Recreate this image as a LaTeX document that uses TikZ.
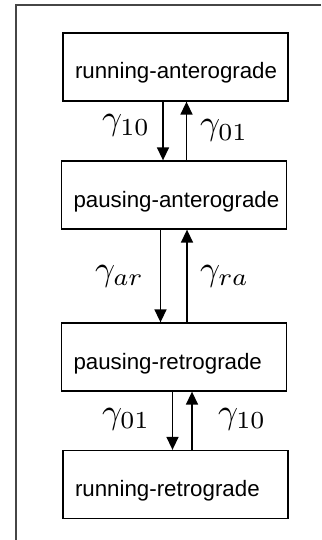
\documentclass[tikz,border=0pt]{standalone}
\usepackage{fontspec}
\setmainfont{Liberation Sans}
\usetikzlibrary{arrows.meta}
\definecolor{framegray}{RGB}{70,70,70}
\newcommand{\ratelabel}[1]{\scalebox{3.5}{$\gamma_{#1}$}}
\begin{document}
\begin{tikzpicture}[x=1pt,y=-1pt,
  statebox/.style={draw=black, line width=1.3pt, minimum width=225pt, minimum height=68pt,
    text width=201pt, inner xsep=12pt, align=left, text height=24pt, text depth=0pt,
    font=\fontsize{22.3}{26}\selectfont},
  rate/.style={anchor=base west, inner sep=0pt},
  trans/.style={line width=1.5pt, -{Triangle[length=13pt,width=12pt]}},
  framestyle/.style={line width=1.7pt, draw=framegray}]
\useasboundingbox (0,0) rectangle (321,540);
\draw[framestyle] (321,5) -- (16,5) -- (16,540);

\node[statebox] (b1) at (175.5,67) {\mbox{running-anterograde}};
\node[statebox] (b2) at (174,195) {\mbox{pausing-anterograde}};
\node[statebox] (b3) at (174,357) {\mbox{pausing-retrograde}};
\node[statebox] (b4) at (175.5,484.5) {\mbox{running-retrograde}};

\draw[trans] ([xshift=-12.5pt]b1.south) -- ([xshift=-11pt]b2.north);
\draw[trans] ([xshift=12.5pt]b2.north) -- ([xshift=11pt]b1.south);
\draw[trans] ([xshift=-13.5pt]b2.south) -- ([xshift=-13.5pt]b3.north);
\draw[trans] ([xshift=13pt]b3.north) -- ([xshift=13pt]b2.south);
\draw[trans] ([xshift=-1.5pt]b3.south) -- ([xshift=-3pt]b4.north);
\draw[trans] ([xshift=16.5pt]b4.north) -- ([xshift=18pt]b3.south);

\node[rate] (l1) at (102,130) {\ratelabel{10}};
\node[rate] (l2) at (200,135) {\ratelabel{01}};
\node[rate] (l3) at (95,280) {\ratelabel{ar}};
\node[rate] (l4) at (200,280) {\ratelabel{ra}};
\node[rate] (l5) at (102,423) {\ratelabel{01}};
\node[rate] (l6) at (218,423) {\ratelabel{10}};
\end{tikzpicture}
\end{document}
